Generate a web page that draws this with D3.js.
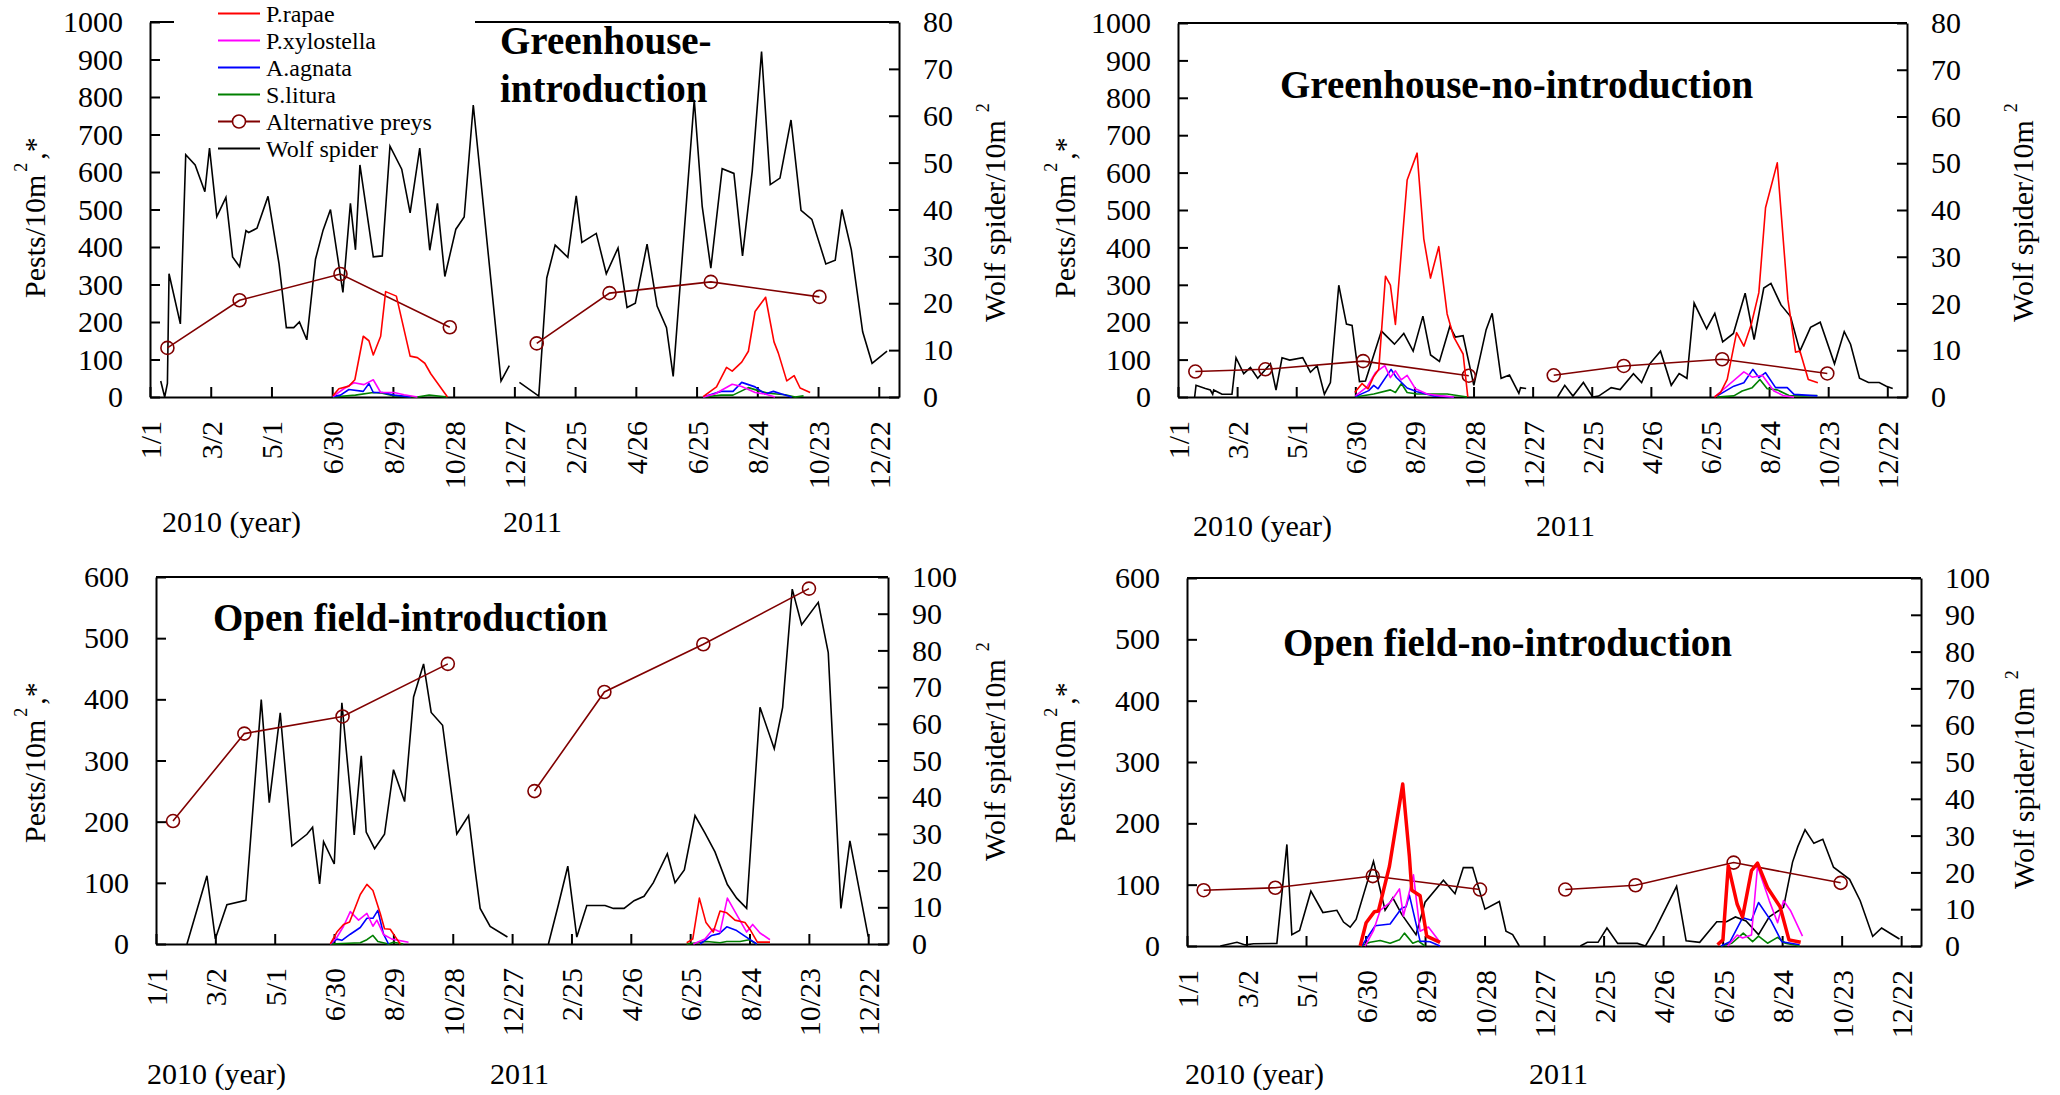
<!DOCTYPE html>
<html>
<head>
<meta charset="utf-8">
<script src="https://cdn.jsdelivr.net/npm/d3@7"></script>
<style>
  html, body { margin: 0; padding: 0; background: #fff; }
  svg text { font-family: "Liberation Serif", "Times New Roman", serif; fill: #000; }
</style>
</head>
<body>
<svg id="chart" width="2060" height="1095"></svg>
<script>
// ---- Axis ticks (day offsets from 1 Jan 2010) ----
const tickDays = [0, 60, 120, 180, 240, 300, 360, 420, 480, 540, 600, 660, 720];
const tickLabels = ["1/1", "3/2", "5/1", "6/30", "8/29", "10/28", "12/27", "2/25", "4/26", "6/25", "8/24", "10/23", "12/22"];
const seriesNames = ["P.rapae", "P.xylostella", "A.agnata", "S.litura", "Alternative preys", "Wolf spider"];
const seriesColors = ["#ff0000", "#ff00ff", "#0000ff", "#008000", "#800000", "#000000"];
const panelTitles = [["Greenhouse-", "introduction"], ["Greenhouse-no-introduction"], ["Open field-introduction"], ["Open field-no-introduction"]];
const pestMax = [1000, 1000, 600, 600];
const spiderMax = [80, 80, 100, 100];
const yearLabels = ["2010 (year)", "2011"];

// ---- Greenhouse, spiders introduced: [day, value]; null breaks the line ----
const ghIntroWolf = [[10.6,3.4],[14.5,0],[17.2,2.9],[18.8,26.3],[30,15.6],[35.3,51.7],[44.6,49.5],[54.2,43.8],[58.8,53.1],[66,38.5],[75,42.6],[81.6,29.9],[88.5,27.8],[94.8,35.5],[97.4,35.1],[105.7,36.0],[116.6,42.8],[127.5,28.4],[134.7,14.8],[142,14.8],[147.6,16.0],[154.9,12.2],[163.5,29.4],[171,35.6],[178.3,40.0],[190.6,22.3],[198,41.3],[203,31.4],[207.4,49.5],[220.6,29.9],[229.5,30.1],[237.1,53.5],[248.7,48.6],[257,39.3],[266.5,53.1],[276.4,31.3],[284,41.3],[291.3,25.7],[302.2,35.8],[310.4,38.4],[319.4,62.3],[346.8,3.4],[355,6.7],null,
  [365,3.1],[384.1,0.2],[392,25.4],[400.3,32.4],[412.8,29.8],[421.1,42.9],[426.7,33.0],[440.9,34.9],[450.8,26.3],[462.4,31.8],[471.3,19.1],[479.5,20.0],[491.1,32.6],[501,19.4],[510.3,14.8],[516.9,4.4],[537.7,63.4],[545.6,40.6],[554.1,27.5],[565.3,48.7],[576.9,47.7],[585.4,30.1],[595,48.2],[604.2,73.7],[612.8,45.3],[622.4,46.7],[633.3,59.1],[643.2,39.8],[653.9,37.9],[667.7,28.4],[677,29.2],[683.6,40.0],[692.9,31.4],[704.1,13.9],[713.4,7.2],[728.2,9.8]];
const ghIntroAlt = [[17.2,131],[88.5,258],[188.2,328],[296.2,186],null,[382.1,143],[454,277],[554.1,307],[661.4,267]];
const ghIntroRapae = [[180.6,3],[186.6,22],[196.5,29],[202.4,46],[210.7,162],[216.3,150],[220.6,112],[227.9,162],[232.8,281],[243.4,269],[257,109],[264.2,105],[271.5,90],[277.4,62],[293.9,0],null,
  [546.5,1],[559.7,27],[569.6,79],[575.2,69],[584.6,93],[591.2,122],[597.8,228],[608.2,266],[616.5,147],[620.8,117],[629.1,43],[636.4,57],[642.3,24],[652.2,12]];
const ghIntroXylo = [[180.6,1],[191.5,22],[201.5,38],[211.4,33],[220.6,46],[227.9,12],[241.1,12],[251,6],[264.2,0],null,
  [546.5,0],[558,8],[575.2,34],[584.6,28],[597.8,12],[607.6,8],[617.5,0]];
const ghIntroAgn = [[180.6,1],[188.2,5],[196.5,20],[210.7,15],[216.3,36],[220.6,12],[229.5,12],[241.1,5],[257.6,0],null,
  [546.5,0],[564.3,15],[576,15],[584.6,39],[597.8,27],[607.6,8],[615.9,15],[624.1,8],[634,0]];
const ghIntroLit = [[180.6,0],[203,5],[220.6,12],[229.5,10],[241.1,3],[264,0],[275.8,5],[294,0],null,
  [546.5,0],[564.3,5],[576,5],[591.2,25],[601,17],[611,10],[627.5,6],[637.5,0],[645.7,3]];

// ---- Greenhouse, no introduction ----
const ghNoWolf = [[16.9,0],[18.3,2.5],[27.8,1.8],[32.8,1.5],[35.2,0.6],[36.2,1.5],[44.7,0.6],[54.8,0.6],[58.9,8.4],[66.7,5.0],[73.5,6.3],[80.9,4.0],[87.7,5.6],[93.8,7.1],[99.5,1.5],[105.6,8.4],[113.4,7.9],[126.6,8.4],[134.4,5.3],[141.2,6.7],[148.6,0.6],[154.7,3.1],[163.2,23.9],[171,15.6],[176.7,15.3],[184.2,3.3],[190.3,3.4],[198.7,9.0],[206.5,14.1],[219.7,11.3],[229.2,13.6],[238.7,9.8],[248.6,17.3],[256.4,9.0],[265.4,7.6],[275.9,15.1],[281.6,12.8],[289.4,13.1],[300.3,2.5],[312.8,14.4],[318.9,17.9],[328,4.0],[336.5,4.7],[346,0.8],[347.7,2.0],[353.4,1.8],null,
  [385.3,0],[392.6,2.5],[400.9,0.2],[411.5,3.1],[420.9,0],[427,0.2],[439.7,2.0],[448.8,1.6],[462.3,5.0],[470.6,3.1],[478.9,7.1],[489.8,9.8],[500.7,2.5],[508.7,5.0],[516.6,4.0],[523.9,20.1],[536.6,14.6],[544.9,17.9],[552.9,11.8],[563.8,13.6],[575.7,22.2],[584.8,12.3],[594.6,23.3],[601.9,24.3],[612.1,19.7],[621.8,17.2],[631.3,9.8],[642.1,14.9],[651.9,16.0],[666.4,7.1],[676.3,14.0],[682.7,11.3],[691.8,4.0],[700.9,3.1],[711.8,3.1],[719,2.3],[725.5,1.8]];
const ghNoAlt = [[17.6,68],[88.7,74],[187.9,96],[295.2,57],null,[381.4,58],[452.5,83],[552.4,101],[659.1,63]];
const ghNoRapae = [[179.4,12],[186.9,36],[193,22],[198.7,55],[203.8,74],[210.6,323],[215.6,299],[220.7,194],[232.6,580],[242.7,652],[249.5,423],[256.3,318],[264.7,402],[273.2,222],[280,160],[289.4,115],[294.2,0],null,
  [544.6,0],[550.7,12],[557.5,47],[567,172],[574.4,136],[581.9,194],[589.6,279],[596.4,506],[608.3,626],[619.1,261],[626.9,120],[631.3,123],[639.8,47],[649.5,38]];
const ghNoXylo = [[180.1,3],[191.9,27],[200.4,65],[209.9,84],[215.6,52],[220.7,70],[226.5,46],[232.6,58],[241,22],[252.9,8],[266.4,3],[280,0],null,
  [544.6,0],[574.4,67],[582.9,53],[593.1,58],[604.9,16],[615.1,3],[625.3,0]];
const ghNoAgn = [[180.1,1],[193.6,17],[198.7,31],[203.1,22],[216.3,74],[221.7,52],[232.6,24],[242.7,14],[259.6,3],[280,0],null,
  [547.3,3],[564.2,29],[574.4,38],[583.5,74],[589.6,52],[596.4,65],[606.6,25],[618.4,25],[625.3,7],[649,3]];
const ghNoLit = [[180.1,0],[198.7,8],[215.6,19],[220.7,12],[226.8,36],[232.6,12],[242.7,8],[273.2,8],[293.5,0],null,
  [547.3,0],[564.2,3],[572.7,16],[582.9,25],[590.7,47],[598.1,22],[608.3,19],[620.2,4],[635.4,3],[649,4]];

// ---- Open field, spiders introduced ----
const ofIntroWolf = [[31.3,0],[51.5,18.6],[60,1.4],[71.7,10.7],[90.9,11.9],[106.4,66.6],[114.5,38.5],[125.6,63.0],[137.4,26.7],[152.6,29.9],[158.3,31.8],[165.4,16.4],[169.4,27.9],[180.2,21.8],[187.9,65.7],[200.4,29.7],[207.5,51.3],[212.5,30.5],[221,26.0],[231,29.9],[240.1,47.5],[251.3,38.8],[260.4,67.3],[270.5,76.3],[278.2,63.1],[289.7,59.6],[304.1,30.0],[316,35.0],[322.7,20.0],[327.7,9.7],[337.8,4.8],[355.3,1.9],null,
  [396.7,0],[406.8,10.7],[416.3,21.2],[425.4,1.9],[435.5,10.5],[454,10.5],[462.4,9.7],[473.2,9.7],[483.3,11.8],[493.4,13.0],[502.8,16.7],[516.9,24.6],[524.7,16.7],[534.1,20.2],[544.9,35.0],[555,30.2],[565.1,25.1],[577.6,16.2],[587,12.5],[597.1,9.7],[610.6,64.5],[625,53.2],[633.5,64.5],[643.2,96.7],[652.7,87.0],[669.5,93.1],[679.6,79.4],[692.4,9.7],[701.5,28.1],[720,2.0]];
const ofIntroAlt = [[17.2,201],[89.3,344],[188.6,372],[295,458],null,[382.6,250],[453.3,412],[553.3,490],[660.1,581]];
const ofIntroRapae = [[176.2,0],[182.9,19.5],[189.6,32],[195.7,36],[206.5,81],[213.2,97.5],[219.3,87.5],[226.7,50],[231,25],[236.8,24],[243.5,8],[246.9,0],null,
  [536.5,2],[542.6,8],[549.3,75],[556,35],[563.4,19.5],[570.2,54],[577,51],[585.3,39],[595.4,35],[601.2,22],[607.9,3],[620.7,3]];
const ofIntroXylo = [[176.2,0],[182.9,11],[189.6,29],[196.4,53],[204.8,39],[213.2,50],[219.3,29],[223.3,39],[230,15.6],[238.5,8],[255.3,3],null,
  [543.2,0],[555,8],[563.4,25],[570.2,19.5],[577.6,75],[585.3,53],[597.1,19.5],[603.2,32],[610.6,18],[620.7,7]];
const ofIntroAgn = [[176.2,0],[182.9,8],[187.9,6],[196.4,16],[206.5,27],[213.2,42],[219.3,42],[224.3,55],[230,16],[235.1,0],null,
  [550,0],[561.8,14],[569.5,17],[577,28],[587,22],[599.8,8],[607.3,0]];
const ofIntroLit = [[176.2,0],[206.5,2],[213.2,7],[219.3,14],[224.3,4],[235,0],[240,3],[250,0],null,
  [536.5,0],[556.7,4],[570.2,2],[577,4],[590.4,4],[599.8,7],[607.3,0]];

// ---- Open field, no introduction ----
const ofNoWolf = [[33.6,0],[50.4,1.0],[58.7,0.3],[67.1,0.6],[90.6,0.7],[100.7,27.6],[105.7,3.1],[113.5,4.2],[124.9,14.9],[137,9.1],[151.1,9.7],[157.8,6.5],[164.5,5.1],[170.5,7.2],[188,23.0],[199.7,9.7],[207.5,13.1],[216.5,8.6],[230.9,3.1],[240,11.9],[258.5,17.9],[270.2,14.2],[278.6,21.3],[288,21.3],[300.4,10.0],[314.9,12.1],[321.6,4.0],[328.3,3.1],[335,0],null,
  [396.5,0],[403.6,1.0],[414.4,1.0],[423.4,4.9],[434.2,0.7],[454,0.7],[462.2,0],[472,4.5],[493.6,16.2],[503.2,1.4],[516.9,1.0],[534.1,6.6],[543.9,6.6],[552.9,7.9],[563.6,6.8],[576.2,3.1],[587,7.9],[601.4,10.5],[610.5,22.8],[615.8,27.0],[623.1,31.6],[632,27.9],[641,29.0],[651.8,21.4],[668,18.1],[678.7,12.3],[691.3,2.6],[700.3,4.9],[710.4,3.2],[718.3,1.9]];
const ofNoAlt = [[16.8,91],[89,95],[187.3,114],[295.4,92],null,[381.4,92],[452.2,99],[551.1,136],[659,103]];
const ofNoRapae = [[174.6,0],[180.6,38],[189,56],[193,57],[204.1,130],[217.5,264],[224.2,146],[226.6,91],[235,82],[241.7,16],[255.1,6],null,
  [534.9,2],[540.3,10],[545.7,131],[554.7,68],[560.1,47],[569.1,123],[575.2,135],[585.3,95],[597.9,64],[606.9,10],[618.7,6]];
const ofNoXylo = [[179.6,0],[188,25],[194.7,58],[204.8,71],[214.2,93],[218.2,49],[224.9,93],[228.3,116],[235,24],[243.4,31],[255.1,6],null,
  [545,0],[554.7,18],[560.1,13],[569.1,18],[575.2,130],[587,74],[595.4,38],[601.4,74],[608.7,57],[620.5,16]];
const ofNoAgn = [[176.2,0],[189.7,33],[204.8,36],[216.5,62],[220.9,64],[224.2,83],[235,8],[245,7],[255.1,0],null,
  [538.5,0],[547.5,7],[560.1,46],[569.1,42],[576.2,71],[588.8,41],[599.6,7],[617.6,2]];
const ofNoLit = [[174.6,0],[184.6,6],[194.7,9],[204.8,4.5],[214.2,10],[219.2,21],[227.6,4.5],[233.3,8],[240,0],null,
  [538.5,0],[549.3,4.5],[560.8,21],[570.2,7],[576.2,16],[585.3,4.5],[595.4,14],[603.2,4.5],[617.6,0]];

// Pest series per panel, in legend order: rapae, xylostella, agnata, litura
const panelPests = [
  [ghIntroRapae, ghIntroXylo, ghIntroAgn, ghIntroLit],
  [ghNoRapae, ghNoXylo, ghNoAgn, ghNoLit],
  [ofIntroRapae, ofIntroXylo, ofIntroAgn, ofIntroLit],
  [ofNoRapae, ofNoXylo, ofNoAgn, ofNoLit]
];
const panelAlt = [ghIntroAlt, ghNoAlt, ofIntroAlt, ofNoAlt];
const panelWolf = [ghIntroWolf, ghNoWolf, ofIntroWolf, ofNoWolf];

// ---- Panel geometry ----
const layout = [
  { x0: 150,  x1: 899,  y0: 22,  y1: 397, titleX: 500,  titleY: [54, 102], leftLab: [45, 298],   rightLab: [1005, 322], yearY: 532,  yearX: [162, 503],   redW: 1.6 },
  { x0: 1178, x1: 1907, y0: 23,  y1: 397, titleX: 1280, titleY: [98],      leftLab: [1075, 298], rightLab: [2033, 322], yearY: 536,  yearX: [1193, 1536], redW: 1.6 },
  { x0: 156,  x1: 888,  y0: 577, y1: 944, titleX: 213,  titleY: [631],     leftLab: [45, 843],   rightLab: [1005, 861], yearY: 1084, yearX: [147, 490],   redW: 1.6 },
  { x0: 1187, x1: 1921, y0: 578, y1: 946, titleX: 1283, titleY: [656],     leftLab: [1075, 843], rightLab: [2034, 889], yearY: 1084, yearX: [1185, 1529], redW: 3.5 }
];

const FONT = '"Liberation Serif", "Times New Roman", serif';
const svg = d3.select("#chart");
svg.append("rect").attr("width", 2060).attr("height", 1095).attr("fill", "#fff");

function styleAxis(g) {
  g.attr("font-family", FONT).attr("font-size", 30);
  g.selectAll(".domain").attr("stroke", "#000").attr("stroke-width", 2);
  g.selectAll(".tick line").attr("stroke", "#000").attr("stroke-width", 2);
  g.selectAll(".tick text").attr("fill", "#000").style("font-family", FONT);
}

function drawPanel(i) {
  const L = layout[i];
  const g = svg.append("g");
  const x = d3.scaleLinear().domain([0, 740]).range([L.x0, L.x1]);
  const yL = d3.scaleLinear().domain([0, pestMax[i]]).range([L.y1, L.y0]);
  const yR = d3.scaleLinear().domain([0, spiderMax[i]]).range([L.y1, L.y0]);

  // frame top edge
  g.append("line").attr("x1", L.x0).attr("x2", L.x1).attr("y1", L.y0).attr("y2", L.y0)
    .attr("stroke", "#000").attr("stroke-width", 2);

  // left axis (pests)
  const ax = g.append("g").attr("transform", `translate(${L.x0},0)`)
    .call(d3.axisLeft(yL).tickValues(d3.range(0, pestMax[i] + 1, 100)).tickFormat(d3.format("d"))
      .tickSize(-10).tickSizeOuter(0).tickPadding(27));
  styleAxis(ax);

  // right axis (wolf spiders)
  const ar = g.append("g").attr("transform", `translate(${L.x1},0)`)
    .call(d3.axisRight(yR).tickValues(d3.range(0, spiderMax[i] + 1, 10)).tickFormat(d3.format("d"))
      .tickSize(-10).tickSizeOuter(0).tickPadding(24));
  styleAxis(ar);

  // bottom axis (dates)
  const ab = g.append("g").attr("transform", `translate(0,${L.y1})`)
    .call(d3.axisBottom(x).tickValues(tickDays).tickSize(-10).tickSizeOuter(0)
      .tickFormat((d, k) => tickLabels[k]));
  styleAxis(ab);
  ab.selectAll(".tick text")
    .attr("transform", "rotate(-90)")
    .attr("x", -24).attr("y", 0).attr("dy", "0.35em")
    .attr("text-anchor", "end");

  // legend backdrop on the first panel hides part of the top edge
  if (i === 0) {
    g.append("rect").attr("x", 174).attr("y", 10).attr("width", 301).attr("height", 22).attr("fill", "#fff");
  }

  // titles
  panelTitles[i].forEach((t, k) => {
    g.append("text").attr("x", L.titleX).attr("y", L.titleY[k])
      .attr("font-size", 39).attr("font-weight", "bold").text(t);
  });

  // axis titles
  const lt = g.append("text").attr("transform", `translate(${L.leftLab[0]},${L.leftLab[1]}) rotate(-90)`)
    .attr("font-size", 30);
  lt.append("tspan").text("Pests/10m");
  lt.append("tspan").attr("font-size", 18).attr("dx", 3).attr("dy", -18).text("2");
  lt.append("tspan").attr("dx", 3).attr("dy", 18).text(",*");

  const rt = g.append("text").attr("transform", `translate(${L.rightLab[0]},${L.rightLab[1]}) rotate(-90)`)
    .attr("font-size", 30);
  rt.append("tspan").text("Wolf spider/10m");
  rt.append("tspan").attr("font-size", 18).attr("dx", 8).attr("dy", -16).text("2");

  // year captions
  yearLabels.forEach((t, k) => {
    g.append("text").attr("x", L.yearX[k]).attr("y", L.yearY).attr("font-size", 30).text(t);
  });

  // data lines
  const lineL = d3.line().defined(d => d !== null).x(d => x(d[0])).y(d => yL(d[1]));
  const lineR = d3.line().defined(d => d !== null).x(d => x(d[0])).y(d => yR(d[1]));

  g.append("path").datum(panelWolf[i]).attr("d", lineR)
    .attr("fill", "none").attr("stroke", seriesColors[5]).attr("stroke-width", 1.6).attr("stroke-linejoin", "miter");

  g.append("path").datum(panelAlt[i]).attr("d", lineL)
    .attr("fill", "none").attr("stroke", seriesColors[4]).attr("stroke-width", 1.6);
  g.selectAll("circle.alt").data(panelAlt[i].filter(d => d !== null)).join("circle")
    .attr("class", "alt").attr("cx", d => x(d[0])).attr("cy", d => yL(d[1])).attr("r", 6.5)
    .attr("fill", "none").attr("stroke", seriesColors[4]).attr("stroke-width", 1.6);

  // pests drawn so that red sits on top
  [3, 2, 1, 0].forEach(k => {
    g.append("path").datum(panelPests[i][k]).attr("d", lineL)
      .attr("fill", "none").attr("stroke", seriesColors[k])
      .attr("stroke-width", k === 0 ? L.redW : 1.6).attr("stroke-linejoin", "round");
  });

  // legend (first panel only)
  if (i === 0) {
    const lg = g.append("g");
    seriesNames.forEach((n, k) => {
      const yy = 13.5 + k * 27;
      lg.append("line").attr("x1", 218).attr("x2", 260).attr("y1", yy).attr("y2", yy)
        .attr("stroke", seriesColors[k]).attr("stroke-width", 1.8);
      if (k === 4) {
        lg.append("circle").attr("cx", 239).attr("cy", yy).attr("r", 6.5)
          .attr("fill", "#fff").attr("stroke", seriesColors[k]).attr("stroke-width", 1.6);
      }
      lg.append("text").attr("x", 266).attr("y", yy).attr("dy", "0.35em")
        .attr("font-size", 24).text(n);
    });
  }
}

[0, 1, 2, 3].forEach(drawPanel);
</script>
</body>
</html>
